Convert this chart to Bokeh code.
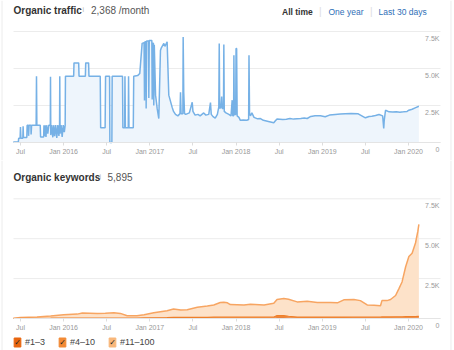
from bokeh.plotting import figure
from bokeh.models import (ColumnDataSource, FixedTicker, Label, LabelSet, Legend,
                          LegendItem, Range1d, Span)
from bokeh.core.properties import value
from bokeh.layouts import column
from bokeh.embed import file_html
from bokeh.resources import INLINE

FONT = "Liberation Sans"

# ---- axis ticks (months counted from Jan 2015) ----
tick_months = [6, 12, 18, 24, 30, 36, 42, 48, 54, 60]
tick_labels = ["Jul", "Jan 2016", "Jul", "Jan 2017", "Jul", "Jan 2018",
               "Jul", "Jan 2019", "Jul", "Jan 2020"]
y_ticks = [0, 2500, 5000, 7500]
y_tick_labels = ["0", "2.5K", "5.0K", "7.5K"]
x_start, x_end = 5.03, 64.45          # plotting area (left/right of the grid)
y_start, y_end = 0, 7500

# ---- organic traffic (month index, visits/month) ----
traffic_month = [
    5.00, 5.70, 5.75, 5.95, 6.00, 6.06, 6.33, 6.37, 6.42, 6.88,
    6.93, 7.10, 7.13, 7.20, 7.45, 7.48, 7.55, 8.18, 8.23, 8.28,
    8.75, 8.80, 9.22, 9.27, 9.35, 9.45, 9.55, 9.65, 9.80, 9.95,
    10.15, 10.18, 10.22, 10.35, 10.50, 10.62, 10.75, 10.90, 11.05, 11.20,
    11.35, 11.44, 11.47, 11.51, 11.65, 11.80, 11.95, 12.10, 12.22, 12.26,
    13.40, 13.45, 14.10, 14.15, 15.03, 15.08, 15.48, 15.53, 17.10, 17.16,
    17.78, 17.84, 18.40, 18.44, 18.72, 18.76, 20.20, 20.25, 20.50, 20.54,
    20.60, 21.00, 21.04, 21.10, 21.70, 21.76, 22.30, 22.60, 22.93, 23.20,
    23.26, 23.32, 23.45, 23.49, 23.55, 23.82, 23.86, 23.92, 24.28, 24.33,
    24.40, 24.50, 24.55, 24.62, 24.80, 25.02, 25.25, 25.48, 25.60, 25.95,
    26.10, 26.41, 26.64, 27.10, 27.30, 27.57, 27.90, 28.20, 28.27, 28.35,
    28.60, 28.64, 28.72, 28.83, 29.00, 29.50, 29.90, 30.00, 30.30, 30.70,
    31.00, 31.50, 31.80, 32.20, 32.44, 32.55, 32.80, 33.10, 33.40, 33.60,
    33.66, 33.72, 33.90, 34.00, 34.07, 34.25, 34.30, 34.36, 34.60, 35.00,
    35.30, 35.46, 35.55, 35.66, 35.70, 35.76, 35.95, 36.00, 36.08, 36.15,
    36.40, 36.60, 37.00, 37.50, 37.75, 37.80, 37.88, 38.00, 38.20, 38.50,
    39.00, 39.40, 39.80, 40.50, 41.25, 41.50, 41.70, 42.50, 43.00, 43.50,
    44.00, 44.50, 45.00, 45.50, 45.90, 46.40, 47.00, 47.75, 48.40, 49.00,
    49.80, 50.50, 51.20, 52.00, 53.00, 54.00, 54.50, 54.90, 55.40, 55.90,
    56.40, 56.55, 56.62, 56.80, 57.30, 57.80, 58.30, 58.80, 59.30, 59.80,
    60.05, 60.50, 61.00, 61.44]
traffic_value = [
    30, 30, 280, 280, 1050, 280, 280, 1100, 330, 340,
    1170, 1170, 450, 1170, 1170, 550, 1170, 1170, 4480, 1170,
    1170, 370, 370, 1170, 420, 1170, 380, 1170, 600, 1170,
    1170, 4440, 500, 1170, 350, 1170, 420, 1170, 300, 1170,
    450, 1170, 4480, 600, 1170, 380, 1170, 700, 1170, 4480,
    4480, 5380, 5380, 4480, 4480, 5380, 5380, 4480, 4480, 990,
    990, 4480, 4480, 0, 0, 4480, 4480, 990, 990, 4480,
    990, 990, 4480, 990, 990, 4480, 4520, 4660, 6700, 6750,
    2840, 6800, 6800, 2300, 6850, 6850, 3000, 6900, 6900, 2900,
    6700, 6700, 2500, 6600, 3200, 2300, 1620, 6220, 6400, 6690,
    6500, 6800, 3200, 2390, 2100, 1900, 1800, 1950, 3400, 1950,
    1950, 7120, 3400, 1950, 1900, 2000, 2720, 2100, 1850, 1900,
    1800, 2000, 1850, 1900, 2700, 1900, 1750, 1650, 1900, 2400,
    6690, 2300, 2400, 3100, 2300, 2300, 6620, 2100, 2000, 1900,
    1800, 2860, 1800, 1800, 5900, 1900, 1900, 6350, 6350, 1800,
    1700, 1500, 1520, 1500, 1550, 5900, 1960, 1800, 2000, 1700,
    1600, 1620, 1500, 1420, 1330, 1480, 1580, 1550, 1570, 1620,
    1580, 1600, 1620, 1650, 1620, 1760, 1800, 1800, 1740, 1850,
    1890, 1920, 1950, 1960, 1940, 1670, 1760, 1780, 1820, 1890,
    1800, 950, 1500, 2180, 2070, 2060, 2080, 2050, 2070, 2100,
    2180, 2250, 2360, 2450]

# ---- organic keywords ----
kw_month = [5.0, 6.0, 8.3, 10.2, 12.0, 13.9, 14.6, 16.7, 17.8, 19.0,
            19.9, 20.85, 22.2, 23.2, 24.55, 26.4, 27.3, 28.3, 29.2, 30.6,
            32.0, 32.9, 33.8, 34.3, 34.8, 35.2, 37.1, 38.0, 39.9, 41.25,
            41.7, 42.65, 43.3, 44.5, 45.9, 47.3, 49.15, 50.1, 51.0, 52.4,
            53.3, 54.25, 55.2, 56.1, 56.3, 57.0, 57.5, 58.2, 58.65, 59.1,
            59.6, 60.05, 60.5, 60.97, 61.3, 61.44]
kw_total = [20, 60, 100, 150, 230, 275, 340, 320, 335, 360,
            320, 170, 170, 230, 360, 490, 590, 530, 550, 700,
            780, 850, 1000, 1020, 980, 870, 850, 890, 850, 950,
            1190, 1250, 1210, 1040, 1080, 1000, 1000, 980, 1170, 1190,
            1120, 850, 830, 800, 1120, 1120, 1190, 1440, 1860, 2290,
            3240, 3880, 4090, 4730, 5470, 5900]
kw_top3 = [0, 0, 5, 5, 10, 10, 10, 10, 10, 10,
           10, 10, 10, 15, 20, 25, 30, 30, 30, 30,
           35, 35, 40, 40, 40, 40, 40, 40, 40, 45,
           80, 80, 60, 40, 40, 40, 40, 40, 40, 40,
           40, 40, 40, 40, 45, 45, 45, 50, 50, 50,
           55, 55, 55, 60, 60, 60]
kw_4_10 = [0, 5, 10, 15, 20, 20, 20, 20, 20, 20,
           20, 15, 15, 20, 25, 30, 35, 35, 35, 40,
           40, 45, 45, 45, 45, 45, 45, 45, 45, 50,
           100, 100, 80, 50, 50, 50, 50, 50, 50, 55,
           55, 55, 55, 55, 55, 55, 55, 60, 60, 60,
           60, 60, 65, 65, 70, 70]

legend_labels = ["#1\u20133", "#4\u201310", "#11\u2013100"]
legend_colors = ["#e8650e", "#f28a35", "#f8b77a"]

# months per pixel and pixel layout of each panel (frame covers the whole canvas)
PX_PER_MONTH = 7.185
VIEW_X = (x_start - 13 / PX_PER_MONTH, x_end + 14 / PX_PER_MONTH)


def base_figure(height, zero_px, top_px):
    per_px = (y_end - y_start) / (zero_px - top_px)
    y_view = (y_start - (height - zero_px) * per_px, y_end + top_px * per_px)
    p = figure(width=454, height=height, output_backend="svg", toolbar_location=None,
               x_range=Range1d(*VIEW_X), y_range=Range1d(*y_view),
               y_axis_location=None, min_border=0, min_border_left=0,
               min_border_right=0, min_border_top=0, min_border_bottom=0)
    p.outline_line_color = None
    p.background_fill_color = "white"
    p.border_fill_color = "white"
    p.xgrid.grid_line_color = None
    p.ygrid.grid_line_color = None
    # faint border of the card on both sides
    for loc in (VIEW_X[0] + 1.5 / PX_PER_MONTH, VIEW_X[1] - 3.5 / PX_PER_MONTH):
        p.add_layout(Span(location=loc, dimension="height", line_color="#ececec",
                          line_width=1))
    # horizontal grid lines at the tick values, only across the plotting area
    p.segment(x0=[x_start] * len(y_ticks), x1=[x_end] * len(y_ticks), y0=y_ticks,
              y1=y_ticks, line_color="#ececec", line_width=1)
    ax = p.xaxis[0]
    ax.fixed_location = 0
    ax.bounds = (x_start, x_end)
    ax.ticker = FixedTicker(ticks=tick_months)
    ax.major_label_overrides = {m: t for m, t in zip(tick_months, tick_labels)}
    ax.axis_line_color = "#e4e4e4"
    ax.major_tick_line_color = "#dddddd"
    ax.major_tick_in = 0
    ax.major_tick_out = 3
    ax.minor_tick_line_color = None
    ax.major_label_standoff = 2
    ax.major_label_text_font = FONT
    ax.major_label_text_font_size = "7px"
    ax.major_label_text_color = "#999999"
    src = ColumnDataSource(dict(x=[x_end] * len(y_ticks), y=y_ticks, text=y_tick_labels))
    p.add_layout(LabelSet(x="x", y="y", text="text", source=src, text_align="right",
                          text_baseline="middle", y_offset=-7, x_offset=-1,
                          text_font=value(FONT), text_font_size=value("7px"),
                          text_color=value("#999999")))
    return p


def top_text(p, text, dx, dy, size="10px", style="normal", color="#555555"):
    # anchored at the top-left corner of the plotting area, offset in pixels
    p.add_layout(Label(x=x_start, y=y_end, x_offset=dx, y_offset=dy, text=text,
                       text_font=FONT, text_font_size=size, text_font_style=style,
                       text_color=color, text_baseline="middle", text_align="left"))


# ---------------- top: organic traffic ----------------
p1 = base_figure(160, 142, 31)
tsrc = ColumnDataSource(dict(x=traffic_month, y=traffic_value))
p1.varea(x="x", y1=0, y2="y", source=tsrc, fill_color="#eef5fc")
p1.line(x="x", y="y", source=tsrc, line_color="#76b1e6", line_width=1.5)
top_text(p1, "Organic traffic", 0, 21, style="bold", color="#333333")
top_text(p1, "i", 69, 22, size="7px", color="#b5b5b5")
top_text(p1, "2,368 /month", 77.5, 21)
top_text(p1, "All time", 268.5, 20, size="8.5px", style="bold", color="#333333")
top_text(p1, "One year", 315, 20, size="8.5px", color="#2f6fb7")
top_text(p1, "Last 30 days", 365, 20, size="8.5px", color="#2f6fb7")
top_text(p1, "|", 305.5, 20, size="10px", color="#dddddd")
top_text(p1, "|", 356.5, 20, size="10px", color="#dddddd")

# ---------------- bottom: organic keywords ----------------
p2 = base_figure(190, 158, 38.3)
cum1 = list(kw_top3)
cum2 = [a + b for a, b in zip(kw_top3, kw_4_10)]
ksrc = ColumnDataSource(dict(x=kw_month, c1=cum1, c2=cum2, tot=kw_total))
p2.varea(x="x", y1="c2", y2="tot", source=ksrc, fill_color="#fde2c9")
p2.line(x="x", y="tot", source=ksrc, line_color="#f7a562", line_width=1.5)
p2.varea(x="x", y1="c1", y2="c2", source=ksrc, fill_color="#f08a3a")
p2.varea(x="x", y1=0, y2="c1", source=ksrc, fill_color="#e2620c")
p2.line(x="x", y="c2", source=ksrc, line_color="#ee7f2a", line_width=1.2)
top_text(p2, "Organic keywords", 0, 21.6, style="bold", color="#333333")
top_text(p2, "i", 86, 22.6, size="7px", color="#b5b5b5")
top_text(p2, "5,895", 94, 21.6)

# legend: text entries from a Legend; the ticked coloured boxes are drawn as labels
items = []
first = dict(left=kw_month[:1], right=kw_month[:1], bottom=kw_top3[:1], top=kw_top3[:1])
for lab, col in zip(legend_labels, legend_colors):
    r = p2.quad(source=ColumnDataSource(first), left="left", right="right",
                bottom="bottom", top="top", fill_color=col, fill_alpha=0,
                line_color=None)
    items.append(LegendItem(label=lab, renderers=[r]))
legend = Legend(items=items, orientation="horizontal", location=(13, 3), margin=0,
                padding=0, spacing=13, glyph_width=8, glyph_height=8, label_standoff=4,
                label_width=10, label_height=10,
                label_text_font=FONT, label_text_font_size="9px",
                label_text_color="#444444", border_line_color=None,
                background_fill_alpha=0)
p2.add_layout(legend, "center")
for dx, col in zip([4, 49, 99], legend_colors):
    p2.add_layout(Label(x=x_start, y=y_start, x_offset=dx, y_offset=-24, text="\u2713",
                        text_font="DejaVu Sans", text_font_size="8px",
                        text_color="#222222", text_align="center",
                        text_baseline="middle", background_fill_color=col,
                        border_line_color=col))

layout = column(p1, p2, spacing=0)
open("out.html", "w").write(file_html(layout, INLINE))
